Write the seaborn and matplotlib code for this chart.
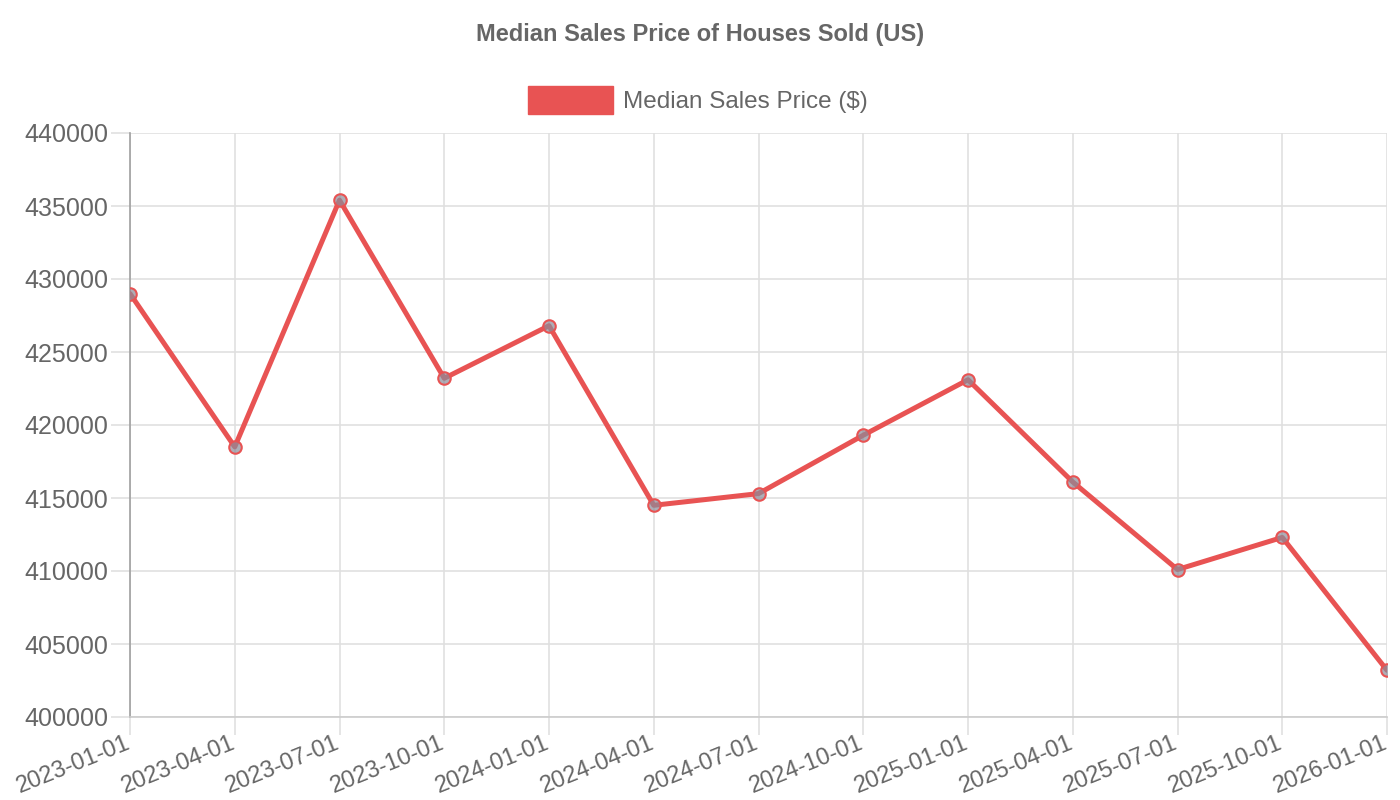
import matplotlib
matplotlib.use("Agg")
import matplotlib.pyplot as plt
import seaborn as sns
import pandas as pd
from matplotlib.patches import Patch
from matplotlib.transforms import ScaledTranslation

dates = ["2023-01-01", "2023-04-01", "2023-07-01", "2023-10-01", "2024-01-01",
         "2024-04-01", "2024-07-01", "2024-10-01", "2025-01-01", "2025-04-01",
         "2025-07-01", "2025-10-01", "2026-01-01"]
prices = [429000, 418500, 435400, 423200, 426800, 414500, 415300,
          419300, 423100, 416100, 410100, 412300, 403200]
series_name = "Median Sales Price ($)"
title = "Median Sales Price of Houses Sold (US)"

sns.set_theme(style="white")
plt.rcParams["font.family"] = ["Liberation Sans", "DejaVu Sans"]

RED = "#e85353"
TXT = "#666666"
GRID = "#e0e0e0"

df = pd.DataFrame({"date": dates, "price": prices})

fig = plt.figure(figsize=(14, 8), dpi=100)
ax = fig.add_axes([130/1400, 1-717/800, (1387-130)/1400, (717-133)/800])

sns.lineplot(data=df, x="date", y="price", sort=False, ax=ax, color=RED,
             linewidth=3.6, zorder=3)
ax.plot(range(len(dates)), prices, linestyle="none", marker="o", markersize=9,
        markerfacecolor=(0.55, 0.55, 0.6, 0.7), markeredgecolor=RED,
        markeredgewidth=1.5, zorder=4)

ax.set_xlim(0, len(dates) - 1)
ax.set_ylim(400000, 440000)
ax.set_yticks(range(400000, 440001, 5000))
ax.set_yticklabels([str(v) for v in range(400000, 440001, 5000)])
ax.set_xticks(range(len(dates)))
ax.set_xticklabels(dates, rotation=22, ha="right", va="top", rotation_mode="anchor")
ax.set_xlabel("")
ax.set_ylabel("")

ax.grid(True, color=GRID, linewidth=1.2)
ax.set_axisbelow(True)
for s in ["top", "right"]:
    ax.spines[s].set_visible(False)
ax.spines["left"].set_color("#a0a0a0")
ax.spines["left"].set_linewidth(1.2)
ax.spines["bottom"].set_color("#cccccc")
ax.spines["bottom"].set_linewidth(1.2)
ax.tick_params(axis="y", length=14, width=1.2, color=GRID,
               labelcolor=TXT, labelsize=18, pad=1.5, left=True)
ax.tick_params(axis="x", length=13, width=1.2, color=GRID,
               labelcolor=TXT, labelsize=17, pad=-2, bottom=True)

shift = ScaledTranslation(-5/100, 0, fig.dpi_scale_trans)
for lab in ax.get_xticklabels():
    lab.set_transform(lab.get_transform() + shift)

fig.text(0.5, 1-34/800, title, ha="center", va="center", fontsize=17,
         fontweight="bold", color=TXT)

handle = Patch(facecolor=RED, edgecolor=RED)
leg = fig.legend([handle], [series_name], loc="center", bbox_to_anchor=(698/1400, 1-100/800),
                 frameon=False, fontsize=17.5, handlelength=3.5, handleheight=1.35,
                 handletextpad=0.4, labelcolor=TXT)

fig.savefig("out.png", dpi=100)
